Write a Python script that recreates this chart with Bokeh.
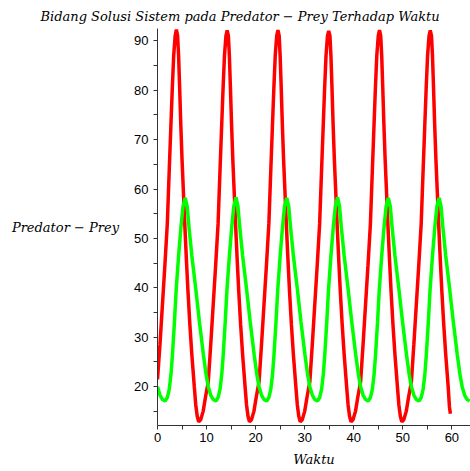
from bokeh.plotting import figure
from bokeh.models import FixedTicker, Title, Range1d
from bokeh.embed import file_html
from bokeh.resources import INLINE

# Prey (red) series
red_t = [
    0, 0.5, 1.0, 1.5, 2.0, 2.4, 2.7, 3.0, 3.3, 3.6, 3.85, 4.1, 4.3, 4.5, 4.75, 5.0, 5.3, 5.6, 5.9, 6.2, 6.6, 7.0, 7.5, 7.8, 8.1, 8.4, 8.8, 9.3, 9.8,
    10.35, 10.85, 11.35, 11.85, 12.35, 12.75, 13.05, 13.35, 13.65, 13.95, 14.2, 14.45, 14.65, 14.85, 15.1, 15.35, 15.65, 15.95, 16.25, 16.55, 16.95, 17.35, 17.85, 18.15, 18.45, 18.75, 19.15, 19.65, 20.15,
    20.7, 21.2, 21.7, 22.2, 22.7, 23.1, 23.4, 23.7, 24.0, 24.3, 24.55, 24.8, 25.0, 25.2, 25.45, 25.7, 26.0, 26.3, 26.6, 26.9, 27.3, 27.7, 28.2, 28.5, 28.8, 29.1, 29.5, 30.0, 30.5,
    31.05, 31.55, 32.05, 32.55, 33.05, 33.45, 33.75, 34.05, 34.35, 34.65, 34.9, 35.15, 35.35, 35.55, 35.8, 36.05, 36.35, 36.65, 36.95, 37.25, 37.65, 38.05, 38.55, 38.85, 39.15, 39.45, 39.85, 40.35, 40.85,
    41.4, 41.9, 42.4, 42.9, 43.4, 43.8, 44.1, 44.4, 44.7, 45.0, 45.25, 45.5, 45.7, 45.9, 46.15, 46.4, 46.7, 47.0, 47.3, 47.6, 48.0, 48.4, 48.9, 49.2, 49.5, 49.8, 50.2, 50.7, 51.2,
    51.75, 52.25, 52.75, 53.25, 53.75, 54.15, 54.45, 54.75, 55.05, 55.35, 55.6, 55.85, 56.05, 56.25, 56.5, 56.75, 57.05, 57.35, 57.65, 57.95, 58.35, 58.75, 59.25, 59.5, 59.7,
]
red_v = [
    21.5, 28.5, 36.5, 44.5, 53, 64, 72, 80, 87, 91, 92.3, 91, 87, 81, 73, 66, 59, 52, 45.5, 39.5, 32.5, 26.5, 20, 16.3, 14, 12.9, 13.3, 15, 18,
    21, 28.5, 36.5, 44.5, 53, 64, 72, 80, 87, 91, 92.1, 91, 87, 81, 73, 66, 59, 52, 45.5, 39.5, 32.5, 26.5, 20, 16.3, 14, 12.9, 13.3, 15, 18,
    21, 28.5, 36.5, 44.5, 53, 64, 72, 80, 87, 91, 92.2, 91, 87, 81, 73, 66, 59, 52, 45.5, 39.5, 32.5, 26.5, 20, 16.3, 14, 12.9, 13.3, 15, 18,
    21, 28.5, 36.5, 44.5, 53, 64, 72, 80, 87, 91, 92.0, 91, 87, 81, 73, 66, 59, 52, 45.5, 39.5, 32.5, 26.5, 20, 16.3, 14, 12.9, 13.3, 15, 18,
    21, 28.5, 36.5, 44.5, 53, 64, 72, 80, 87, 91, 92.2, 91, 87, 81, 73, 66, 59, 52, 45.5, 39.5, 32.5, 26.5, 20, 16.3, 14, 12.9, 13.3, 15, 18,
    21, 28.5, 36.5, 44.5, 53, 64, 72, 80, 87, 91, 92.1, 91, 87, 81, 73, 66, 59, 52, 45.5, 39.5, 32.5, 26.5, 20, 16, 14.5,
]

# Predator (green) series
green_t = [
    0, 0.5, 1.0, 1.55, 2.0, 2.4, 2.75, 3.05, 3.45, 3.8, 4.3, 4.8, 5.2, 5.65, 6.05, 6.4, 7.0, 7.8, 8.55, 9.35, 9.9,
    10.35, 10.85, 11.35, 11.9, 12.35, 12.75, 13.1, 13.4, 13.8, 14.15, 14.65, 15.15, 15.55, 16.0, 16.4, 16.75, 17.35, 18.15, 18.9, 19.7, 20.25,
    20.7, 21.2, 21.7, 22.25, 22.7, 23.1, 23.45, 23.75, 24.15, 24.5, 25.0, 25.5, 25.9, 26.35, 26.75, 27.1, 27.7, 28.5, 29.25, 30.05, 30.6,
    31.05, 31.55, 32.05, 32.6, 33.05, 33.45, 33.8, 34.1, 34.5, 34.85, 35.35, 35.85, 36.25, 36.7, 37.1, 37.45, 38.05, 38.85, 39.6, 40.4, 40.95,
    41.4, 41.9, 42.4, 42.95, 43.4, 43.8, 44.15, 44.45, 44.85, 45.2, 45.7, 46.2, 46.6, 47.05, 47.45, 47.8, 48.4, 49.2, 49.95, 50.75, 51.3,
    51.75, 52.25, 52.75, 53.3, 53.75, 54.15, 54.5, 54.8, 55.2, 55.55, 56.05, 56.55, 56.95, 57.4, 57.8, 58.15, 58.75, 59.55, 60.3, 61.1, 61.65,
    62.1, 62.6, 63.1, 63.65,
]
green_v = [
    20, 18.3, 17.4, 17.1, 17.8, 19.5, 22.5, 26.5, 33, 39.5, 46.5, 52.5, 56.5, 58.2, 56.5, 52.5, 46.5, 39.8, 33.1, 26.5, 22.5,
    20, 18.3, 17.4, 17.1, 17.8, 19.5, 22.5, 26.5, 33, 39.5, 46.5, 52.5, 56.5, 58.3, 56.5, 52.5, 46.5, 39.8, 33.1, 26.5, 22.5,
    20, 18.3, 17.4, 17.1, 17.8, 19.5, 22.5, 26.5, 33, 39.5, 46.5, 52.5, 56.5, 58.2, 56.5, 52.5, 46.5, 39.8, 33.1, 26.5, 22.5,
    20, 18.3, 17.4, 17.1, 17.8, 19.5, 22.5, 26.5, 33, 39.5, 46.5, 52.5, 56.5, 58.3, 56.5, 52.5, 46.5, 39.8, 33.1, 26.5, 22.5,
    20, 18.3, 17.4, 17.1, 17.8, 19.5, 22.5, 26.5, 33, 39.5, 46.5, 52.5, 56.5, 58.2, 56.5, 52.5, 46.5, 39.8, 33.1, 26.5, 22.5,
    20, 18.3, 17.4, 17.1, 17.8, 19.5, 22.5, 26.5, 33, 39.5, 46.5, 52.5, 56.5, 58.2, 56.5, 52.5, 46.5, 39.8, 33.1, 26.5, 22.5,
    20, 18.3, 17.4, 17.1,
]

x_major = [0, 10, 20, 30, 40, 50, 60]
x_minor = [5, 15, 25, 35, 45, 55]
y_major = [20, 30, 40, 50, 60, 70, 80, 90]
y_minor = [15, 25, 35, 45, 55, 65, 75, 85]

title_text = "Bidang Solusi Sistem pada Predator \u2212 Prey Terhadap Waktu"
ylabel_text = "Predator \u2212 Prey"
xlabel_text = "Waktu"

serif = "DejaVu Serif"

p = figure(width=470, height=471, output_backend="svg", toolbar_location=None,
           x_range=Range1d(0, 63.8), y_range=Range1d(12.14, 92.5),
           min_border_left=157, min_border_right=0, min_border_top=28, min_border_bottom=41)
p.outline_line_color = None
p.xgrid.visible = False
p.ygrid.visible = False
p.background_fill_color = "white"
p.border_fill_color = "white"

p.line(red_t, red_v, line_color="#ff0000", line_width=3.5)
p.line(green_t, green_v, line_color="#00ff00", line_width=3.5)

p.xaxis.ticker = FixedTicker(ticks=x_major, minor_ticks=x_minor)
p.yaxis.ticker = FixedTicker(ticks=y_major, minor_ticks=y_minor)
for ax in (p.xaxis, p.yaxis):
    ax.axis_line_color = "#333333"
    ax.major_tick_line_color = "#333333"
    ax.minor_tick_line_color = "#333333"
    ax.major_tick_in = 0
    ax.major_tick_out = 4
    ax.minor_tick_in = 0
    ax.minor_tick_out = 4
    ax.major_label_text_font = "Liberation Sans"
    ax.major_label_text_font_size = "13px"
    ax.major_label_text_color = "black"
p.yaxis.major_label_standoff = 5
p.xaxis.major_label_standoff = 3

p.yaxis.axis_label = ylabel_text
p.yaxis.axis_label_orientation = "horizontal"
p.yaxis.axis_label_text_font = serif
p.yaxis.axis_label_text_font_style = "italic"
p.yaxis.axis_label_text_font_size = "13px"
p.yaxis.axis_label_text_color = "black"
p.yaxis.axis_label_standoff = 12

p.add_layout(Title(text=title_text, text_font=serif, text_font_style="italic",
                   text_font_size="13px", align="left", offset=-117, text_color="black"), "above")
p.add_layout(Title(text=xlabel_text, text_font=serif, text_font_style="italic",
                   text_font_size="13px", align="center", text_color="black"), "below")

open("out.html", "w").write(file_html(p, INLINE))
